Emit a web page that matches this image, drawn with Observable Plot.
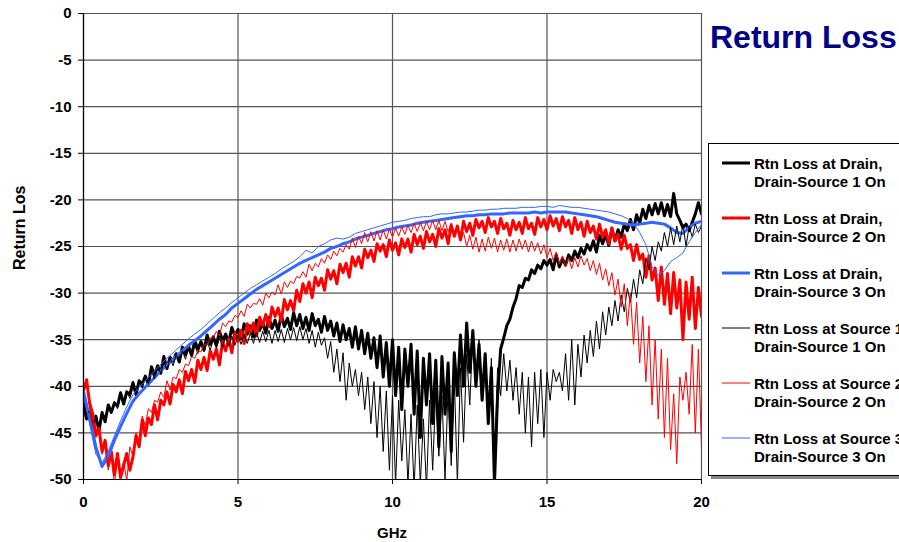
<!DOCTYPE html>
<html><head><meta charset="utf-8">
<script src="https://cdn.jsdelivr.net/npm/d3@7"></script>
<script src="https://cdn.jsdelivr.net/npm/@observablehq/plot@0.6"></script>
<style>
html,body{margin:0;padding:0;background:#fff;}
#chart{position:relative;width:899px;height:542px;overflow:hidden;}
</style></head><body><div id="chart"></div>
<script>
// ---- data (dB return loss vs GHz) ----
const stepFine = 0.1;   // GHz between samples of the noisy sweeps
const stepSmooth = 0.2; // GHz between samples of the smooth sweeps
const xTicks = [0, 5, 10, 15, 20];
const yTicks = [0, -5, -10, -15, -20, -25, -30, -35, -40, -45, -50];

const drainDS1 = [
-42,-43.5,-43,-44.5,-43.2,-44.8,-42.8,-43.8,-42,-42.8,
-41.8,-42.1,-40.7,-41.9,-40.6,-40.9,-39.6,-40.9,-39.4,-39.8,
-38.9,-39.8,-37.9,-38.8,-37.8,-38.6,-36.8,-38.1,-36.9,-37.3,
-36.5,-37.4,-35.8,-36.6,-35.7,-36.7,-35.1,-36,-35.2,-36.1,
-34.5,-35.5,-34.7,-35.6,-34.1,-35.1,-34.4,-35.3,-33.7,-34.6,
-33.9,-34.9,-33.3,-34.4,-33.5,-34.7,-32.9,-34,-33.2,-34.3,
-32.6,-33.8,-32.9,-34.1,-32.3,-33.6,-32.7,-33.9,-32.1,-33.5,
-32.3,-33.8,-32.6,-34,-32.2,-33.5,-32.8,-34.2,-32.5,-34,
-33,-34.6,-33.2,-35.2,-33.4,-35,-33.8,-35.8,-33.6,-36,
-34,-36.5,-34.3,-37,-34.8,-38,-34.6,-39,-35.3,-40,
-35,-41,-35.8,-42.5,-36,-40,-35.5,-43,-36.2,-45.5,
-37,-42,-36.5,-44,-37.2,-46.5,-36.8,-43,-37.5,-47,
-36.4,-41,-34.5,-40,-33.2,-38.5,-34,-40,-35.5,-41.5,
-36.5,-44,-38,-50.5,-41,-36,-34.8,-33.5,-32.8,-31.5,
-30.6,-29.2,-29.4,-28.4,-28.6,-27.5,-27.9,-27,-27.4,-26.5,
-27,-26.4,-27.5,-25.9,-27.2,-26.3,-27,-25.9,-26.5,-25.5,
-26.2,-25.2,-25.8,-24.8,-25.4,-24.4,-25.6,-23.8,-24.7,-23.7,
-24.9,-23.1,-24.4,-23.2,-24,-22.6,-23.3,-22.1,-23.2,-21.6,
-22.5,-21,-22,-20.6,-21.6,-20.4,-21.5,-20.3,-21.7,-20.5,
-21.8,-19.3,-21.5,-22.2,-23,-22.6,-23.3,-22.4,-21.5,-20.3,
-21.5];

const drainDS2 = [
-40.5,-39.3,-41.8,-43,-45.2,-44.5,-47,-45.8,-48.5,-47,
-49.5,-47.2,-49.8,-48.5,-47.2,-49,-47.6,-45.3,-46.5,-43.6,
-45.3,-43.4,-44.1,-42,-43.6,-41.5,-42,-40.6,-41.9,-39.8,
-40.6,-39.3,-40.8,-38.4,-39.4,-38.2,-39.6,-37.2,-38.2,-36.9,
-38.3,-36.2,-37.1,-36,-37.7,-35.2,-36.2,-34.9,-36.4,-34.3,
-35.2,-34,-35.4,-33.3,-34.2,-33.2,-34.6,-32.6,-33.5,-32.3,
-33.6,-31.5,-32.5,-31.6,-33,-30.7,-31.8,-30.8,-31.9,-29.7,
-30.9,-29,-30,-28.8,-30.5,-28.3,-29.2,-28.4,-29.7,-27.5,
-28.5,-27.6,-29,-26.9,-27.8,-26.8,-28.3,-26.1,-27.1,-26.1,
-27.3,-25.3,-26.2,-25.4,-26.6,-24.7,-25.5,-24.8,-26.1,-24.3,
-25.4,-24.6,-25.9,-24.2,-25.1,-24.2,-25.6,-23.7,-24.8,-23.9,
-25.2,-23.4,-24.5,-23.7,-25,-23.1,-24.1,-23.2,-24.7,-22.7,
-23.9,-22.8,-24.3,-22.3,-23.4,-22.5,-23.8,-22.1,-23,-22.3,
-23.5,-21.9,-22.9,-22.3,-23.6,-22,-23.1,-22.5,-23.8,-22.2,
-23.2,-22.4,-23.6,-21.9,-23.1,-22.5,-23.7,-21.9,-22.9,-22.1,
-23.2,-21.7,-22.8,-22,-23.3,-21.8,-22.9,-22.2,-23.6,-21.9,
-23.2,-22.4,-23.9,-22.3,-23.5,-22.8,-24.2,-22.6,-24,-23.2,
-24.7,-23,-24.4,-23.7,-25.3,-23.8,-25.2,-24.8,-26.5,-24.8,
-26.4,-25.8,-28.3,-26,-28.6,-27.3,-30.8,-27.2,-31.2,-27.9,
-32.2,-27.8,-31.6,-28.6,-35,-28.8,-32.8,-28.3,-33.8,-29.4,
-32.5];

const drainDS3 = [
-40.5,-43.5,-46.5,-48.6,-47.5,-45.8,-44.3,-42.9,-41.6,-40.8,
-40.1,-39.4,-38.7,-38,-37.4,-36.8,-36.2,-35.6,-35.1,-34.6,
-34,-33.4,-32.8,-32.3,-31.6,-31.1,-30.6,-30.1,-29.6,-29.2,
-28.8,-28.4,-28,-27.6,-27.2,-26.8,-26.5,-26.2,-25.9,-25.6,
-25.2,-25,-24.7,-24.5,-24.2,-24,-23.8,-23.6,-23.4,-23.2,
-23.1,-22.9,-22.8,-22.7,-22.5,-22.4,-22.3,-22.2,-22.1,-22,
-21.9,-21.8,-21.7,-21.7,-21.6,-21.6,-21.5,-21.5,-21.5,-21.4,
-21.4,-21.4,-21.4,-21.3,-21.4,-21.3,-21.3,-21.3,-21.3,-21.4,
-21.5,-21.6,-21.7,-21.8,-22,-22.2,-22.4,-22.5,-22.6,-22.7,
-22.6,-22.5,-22.4,-22.5,-22.6,-23,-23.5,-23.6,-22.9,-22.5,
-22.3];

const sourceDS1 = [
-41.5,-43,-42.6,-44,-43.4,-44.3,-43,-43.6,-42.2,-42.9,
-41.6,-42.4,-41,-41.8,-40.5,-41.3,-40,-40.8,-39.4,-40.2,
-38.9,-39.7,-38.4,-39.2,-37.9,-38.6,-37.4,-38.2,-37,-37.8,
-36.6,-37.4,-36.2,-37.1,-35.9,-36.8,-35.6,-36.5,-35.4,-36.3,
-35.2,-36.1,-35,-35.9,-34.8,-35.8,-34.7,-35.7,-34.6,-35.6,
-34.5,-35.5,-34.4,-35.4,-34.3,-35.4,-34.2,-35.3,-34.1,-35.2,
-34,-35.4,-34,-35.2,-33.9,-35.3,-33.8,-35,-33.7,-35.1,
-33.6,-35,-33.8,-35.4,-34,-35.8,-34.2,-35.6,-34.8,-37,
-35.2,-38.5,-36,-39.5,-36.4,-41.5,-37.5,-40,-38.2,-41,
-38.5,-42.5,-39,-44,-39.5,-45.5,-40,-47,-40.5,-49,
-41,-50.5,-41.5,-48,-42.5,-50.5,-43,-51,-42,-50.5,
-43.5,-51,-41.5,-49,-40.5,-47.5,-41,-50,-40,-48.5,
-39,-50.5,-38,-46,-36.5,-42,-34.5,-39,-35,-40.5,
-36.5,-44,-37,-49,-38,-41,-36.5,-40.5,-37.2,-41.5,
-38,-43,-38.5,-45,-39,-46.5,-38.5,-44,-38.2,-45.5,
-38.5,-41.5,-38.2,-39.5,-38.5,-40.5,-36.5,-41.5,-35,-42,
-35.5,-39,-34.5,-37.5,-34,-36.8,-33,-36,-32,-34.5,
-31.5,-33.5,-30.8,-33,-30.2,-32,-29.5,-31,-28.5,-30.5,
-27.5,-29,-26.2,-27.5,-25,-26.5,-24.5,-25.5,-23.5,-25,
-23,-24.8,-22.8,-24.5,-22.6,-25,-22.8,-24,-22.6,-23.5,
-22.8];

const sourceDS2 = [
-40,-39.6,-42.5,-44,-45.5,-45,-47.3,-46.2,-49,-47.5,
-50.5,-47.8,-49.5,-48,-50.2,-46.5,-47.5,-45,-45.8,-43.2,
-44.2,-42.4,-42.8,-41.5,-41.7,-40.6,-41.2,-39.4,-40.4,-39,
-39.2,-38.2,-38.5,-37.6,-37.8,-36.8,-37,-36.2,-36.3,-35.5,
-35.6,-34.8,-34.8,-34.1,-34.6,-33.2,-33.6,-33,-33.1,-32.4,
-32.6,-31.9,-32.5,-31.2,-31.6,-31.1,-31.2,-30.6,-31.3,-30,
-30.5,-29.9,-30.2,-29.1,-30.1,-28.8,-29.4,-28.7,-29,-28.2,
-28.4,-27.7,-28.3,-26.9,-27.6,-26.8,-27.2,-26.3,-26.8,-25.9,
-26.4,-25.5,-26,-25.2,-25.6,-24.8,-25.3,-24.1,-25.1,-23.9,
-24.7,-23.5,-24.5,-23.4,-24.4,-23.3,-24.3,-23.2,-24.2,-23.1,
-24,-23,-23.9,-22.9,-23.7,-22.7,-23.5,-22.5,-23.4,-22.4,
-23.3,-22.3,-23.2,-22.2,-23.2,-22.2,-23.3,-22.3,-23.4,-22.5,
-23.8,-23,-24.4,-23.5,-25,-23.8,-25.3,-24,-25.6,-24.2,
-25.5,-24,-25.2,-24.1,-25.6,-24.3,-25.4,-24.2,-25.6,-24.3,
-25.5,-24.2,-25.3,-24.3,-25.6,-24.4,-25.5,-24.6,-25.8,-24.8,
-26.2,-25.2,-26.5,-25.6,-26.9,-26,-27.2,-26.2,-27.4,-26.2,
-27.2,-26,-27,-26.3,-27.6,-26.5,-28,-26.8,-28.6,-27.4,
-29.2,-27.8,-30.2,-28.5,-31.5,-29,-33.5,-30,-35.5,-31,
-37.5,-32.5,-39.5,-33.5,-42,-35,-43.5,-36,-45.5,-37,
-46.8,-40.8,-48.3,-39,-41.5,-38.5,-43,-35.5,-45,-36,
-46.5];

const sourceDS3 = [
-41,-44,-47.3,-48.2,-47,-45.3,-43.7,-42.2,-40.9,-40.1,
-39.4,-38.7,-38,-37.3,-36.7,-36.1,-35.5,-34.9,-34.4,-33.9,
-33.3,-32.7,-32.1,-31.6,-31,-30.5,-30,-29.5,-29.1,-28.7,
-28.3,-27.9,-27.4,-27,-26.6,-26.1,-25.4,-25.7,-25,-24.7,
-24.3,-24.1,-24.2,-24,-23.6,-23.4,-23.2,-23,-22.8,-22.6,
-22.4,-22.3,-22.2,-22,-21.9,-21.8,-21.8,-21.6,-21.5,-21.5,
-21.4,-21.3,-21.3,-21.2,-21.1,-21.1,-21,-21,-20.9,-20.9,
-20.9,-20.8,-20.8,-20.8,-20.7,-20.7,-20.8,-20.6,-20.7,-20.8,
-20.8,-20.9,-21,-21.1,-21.2,-21.3,-21.5,-21.7,-22,-22.5,
-23.5,-24.8,-27.2,-28.1,-27.6,-26.6,-26.2,-25.7,-24.5,-23.5,
-22.6];

const legendLine1 = ["Rtn Loss at Drain,", "Rtn Loss at Drain,", "Rtn Loss at Drain,",
  "Rtn Loss at Source 1,", "Rtn Loss at Source 2,", "Rtn Loss at Source 3,"];
const legendLine2 = ["Drain-Source 1 On", "Drain-Source 2 On", "Drain-Source 3 On",
  "Drain-Source 1 On", "Drain-Source 2 On", "Drain-Source 3 On"];
const titleText = "Return Loss";
const xLabel = "GHz";
const yLabel = "Return Loss";

// ---- styles ----
const seriesValues = [drainDS1, drainDS2, drainDS3, sourceDS1, sourceDS2, sourceDS3];
const seriesSteps = [stepFine, stepFine, stepSmooth, stepFine, stepFine, stepSmooth];
const seriesColor = ["#000000", "#ff0000", "#3366ff", "#000000", "#ff0000", "#3366ff"];
const seriesWidth = [3, 3, 3, 1, 1, 1];
const FONT = "'Liberation Sans', Arial, Helvetica, sans-serif";

const lineMarks = seriesValues.map((vals, k) => {
  const rows = vals.map((v, i) => ({ghz: Math.round(i * seriesSteps[k] * 10) / 10, db: v}));
  return Plot.line(rows, {x: "ghz", y: "db", stroke: seriesColor[k], strokeWidth: seriesWidth[k],
    strokeLinejoin: "round", clip: true});
});

const plot = Plot.plot({
  width: 899, height: 542,
  marginLeft: 83, marginRight: 198, marginTop: 13, marginBottom: 63,
  x: {domain: [0, 20]},
  y: {domain: [-50, 0]},
  style: {fontFamily: FONT, fontSize: "15px", fontWeight: "bold", color: "#000", background: "#fff"},
  marks: [
    Plot.gridX(xTicks, {stroke: "#555", strokeOpacity: 1, strokeWidth: 1.2}),
    Plot.gridY(yTicks, {stroke: "#555", strokeOpacity: 1, strokeWidth: 1.2}),
    ...lineMarks,
    Plot.ruleX([0], {stroke: "#000", strokeWidth: 1.2}),
    Plot.ruleY([-50], {stroke: "#000", strokeWidth: 1.2}),
    Plot.axisY(yTicks, {anchor: "left", tickSize: 5, tickPadding: 7, label: null,
      tickFormat: d => String(d), fontWeight: "bold", fontSize: 15}),
    Plot.axisX(xTicks, {anchor: "bottom", tickSize: 5, tickPadding: 12, label: null,
      tickFormat: d => String(d), fontWeight: "bold", fontSize: 15})
  ]
});

const svg = d3.select(plot);
// y-axis title (clipped at the top, as in the reference)
svg.append("defs").append("clipPath").attr("id", "ylabclip")
  .append("rect").attr("x", 0).attr("y", 185).attr("width", 60).attr("height", 357);
svg.append("g").attr("clip-path", "url(#ylabclip)")
  .append("text")
  .attr("transform", "translate(25,270) rotate(-90)")
  .attr("font-family", FONT).attr("font-size", 16).attr("font-weight", "bold")
  .attr("text-anchor", "start").attr("fill", "#000").text(yLabel);
// x-axis title
svg.append("text").attr("x", 392).attr("y", 538).attr("text-anchor", "middle")
  .attr("font-family", FONT).attr("font-size", 15).attr("font-weight", "bold").text(xLabel);
// chart title
svg.append("text").attr("x", 710).attr("y", 48).attr("fill", "#000088").attr("text-anchor", "start")
  .attr("font-family", FONT).attr("font-size", 32).attr("font-weight", "bold").text(titleText);
// legend
const lg = svg.append("g").attr("text-anchor", "start");
lg.append("rect").attr("x", 711).attr("y", 146).attr("width", 260).attr("height", 333).attr("fill", "#888");
lg.append("rect").attr("x", 708.5).attr("y", 143.5).attr("width", 260).attr("height", 332)
  .attr("fill", "#fff").attr("stroke", "#000").attr("stroke-width", 1);
legendLine1.forEach((t, i) => {
  const y0 = 163 + 55 * i;
  lg.append("line").attr("x1", 722).attr("x2", 750).attr("y1", y0).attr("y2", y0)
    .attr("stroke", seriesColor[i]).attr("stroke-width", seriesWidth[i]);
  const tx = lg.append("text").attr("font-family", FONT).attr("font-size", 15).attr("font-weight", "bold")
    .attr("text-anchor", "start").attr("fill", "#000");
  tx.append("tspan").attr("x", 754).attr("y", y0 + 6).text(t);
  tx.append("tspan").attr("x", 754).attr("y", y0 + 24).text(legendLine2[i]);
});

document.getElementById("chart").appendChild(plot);
</script></body></html>
